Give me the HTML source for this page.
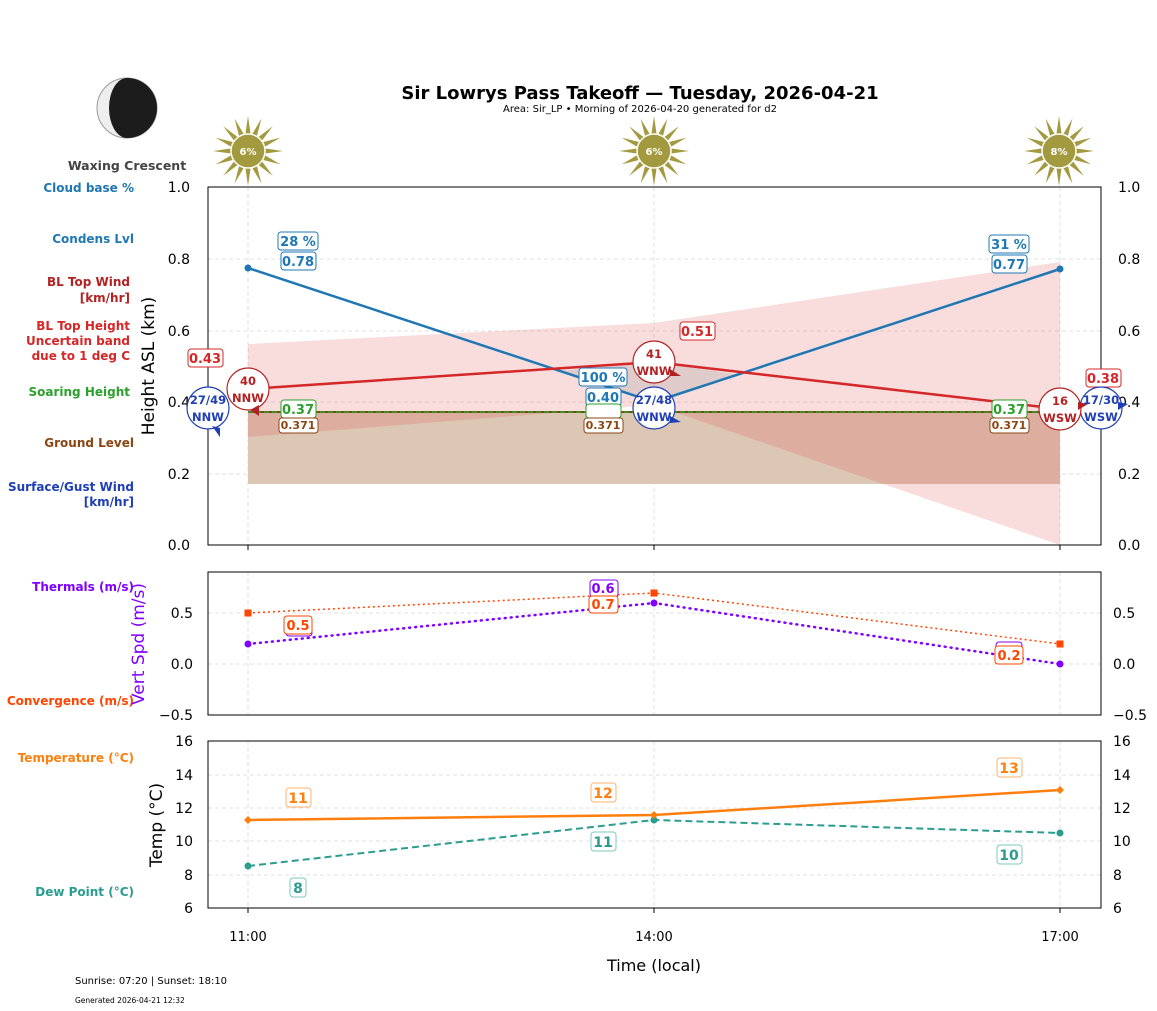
<!DOCTYPE html>
<html><head><meta charset="utf-8"><style>
body{margin:0;background:#fff}
svg{display:block;font-family:"DejaVu Sans","Liberation Sans",sans-serif}
.b{font-weight:bold}
</style></head><body>
<svg width="1157" height="1011" viewBox="0 0 1157 1011">
<defs>
<g id="sun"><g fill="#a39a3f">
<polygon points="0,-35 5,0 0,35 -5,0"/>
<polygon points="0,-35 5,0 0,35 -5,0" transform="rotate(22.5)"/>
<polygon points="0,-35 5,0 0,35 -5,0" transform="rotate(45)"/>
<polygon points="0,-35 5,0 0,35 -5,0" transform="rotate(67.5)"/>
<polygon points="0,-35 5,0 0,35 -5,0" transform="rotate(90)"/>
<polygon points="0,-35 5,0 0,35 -5,0" transform="rotate(112.5)"/>
<polygon points="0,-35 5,0 0,35 -5,0" transform="rotate(135)"/>
<polygon points="0,-35 5,0 0,35 -5,0" transform="rotate(157.5)"/></g>
<circle r="17" fill="#a39a3f" stroke="#fff" stroke-width="1.5"/></g>
</defs>
<!-- header -->
<text x="640" y="99" text-anchor="middle" font-size="18" class="b">Sir Lowrys Pass Takeoff — Tuesday, 2026-04-21</text>
<text x="640" y="112" text-anchor="middle" font-size="10">Area: Sir_LP • Morning of 2026-04-20 generated for d2</text>
<circle cx="127" cy="108" r="30" fill="#eee" stroke="#999"/>
<path d="M127,78 A30,30 0 0 1 127,138 A18,30 0 0 1 127,78Z" fill="#1c1c1c"/>
<text x="127" y="170" text-anchor="middle" font-size="12.5" fill="#444" class="b">Waxing Crescent</text>
<use href="#sun" x="248" y="151"/><use href="#sun" x="654" y="151"/><use href="#sun" x="1059" y="151"/>
<g font-size="10" fill="#fff" class="b" text-anchor="middle"><text x="248" y="155">6%</text><text x="654" y="155">6%</text><text x="1059" y="155">8%</text></g>
<!-- left labels -->
<g font-size="12" class="b" text-anchor="end">
<text x="134" y="192" fill="#1f77b4">Cloud base %</text>
<text x="134" y="243" fill="#1f77b4">Condens Lvl</text>
<text x="130" y="286" fill="#b22222">BL Top Wind</text><text x="130" y="302" fill="#b22222">[km/hr]</text>
<text x="130" y="330" fill="#d62728">BL Top Height</text><text x="130" y="345" fill="#d62728">Uncertain band</text><text x="130" y="360" fill="#d62728">due to 1 deg C</text>
<text x="130" y="396" fill="#2ca02c">Soaring Height</text>
<text x="134" y="447" fill="#8b4513">Ground Level</text>
<text x="134" y="491" fill="#1f3fb4">Surface/Gust Wind</text><text x="134" y="506" fill="#1f3fb4">[km/hr]</text>
<text x="134" y="591" fill="#8000ff">Thermals (m/s)</text>
<text x="134" y="705" fill="#ff4500">Convergence (m/s)</text>
<text x="134" y="762" fill="#ff7f0e">Temperature (°C)</text>
<text x="134" y="896" fill="#2a9d8f">Dew Point (°C)</text>
</g>
<!-- MAIN PLOT -->
<g stroke="#d8d8d8" stroke-dasharray="4,3" stroke-width="0.8">
<line x1="208" x2="1101" y1="259" y2="259"/><line x1="208" x2="1101" y1="331" y2="331"/><line x1="208" x2="1101" y1="402" y2="402"/><line x1="208" x2="1101" y1="474" y2="474"/>
<line x1="248" x2="248" y1="187" y2="545"/><line x1="654" x2="654" y1="187" y2="545"/><line x1="1060" x2="1060" y1="187" y2="545"/>
</g>
<rect x="248" y="412" width="812" height="72" fill="#dcc6b4"/>
<polygon points="248,344 654,323 1060,262 1060,545 654,405 248,437" fill="#e05050" fill-opacity="0.2"/>
<polygon points="560,371 654,362 740,375 654,402" fill="#999" fill-opacity="0.25"/>
<line x1="248" x2="1060" y1="412" y2="412" stroke="#8b4513" stroke-width="2"/>
<line x1="248" x2="1060" y1="412" y2="412" stroke="#2ca02c" stroke-width="1.5" stroke-dasharray="5,3"/>
<polyline points="248,268 654,402 1060,269" fill="none" stroke="#1f77b4" stroke-width="2.5"/>
<g fill="#1f77b4"><circle cx="248" cy="268" r="3.5"/><circle cx="1060" cy="269" r="3.5"/></g>
<polyline points="248,389 654,362 1060,409" fill="none" stroke="#d62728" stroke-width="2.5"/>
<rect x="208" y="187" width="893" height="358" fill="none" stroke="#000" stroke-width="1"/>
<g font-size="14" text-anchor="end"><text x="190" y="192">1.0</text><text x="190" y="264">0.8</text><text x="190" y="336">0.6</text><text x="190" y="407">0.4</text><text x="190" y="479">0.2</text><text x="190" y="550">0.0</text></g>
<g font-size="14"><text x="1118" y="192">1.0</text><text x="1118" y="264">0.8</text><text x="1118" y="336">0.6</text><text x="1118" y="407">0.4</text><text x="1118" y="479">0.2</text><text x="1118" y="550">0.0</text></g>
<text transform="translate(154,366) rotate(-90)" text-anchor="middle" font-size="17">Height ASL (km)</text>
<g stroke="#000"><line x1="248" x2="248" y1="545" y2="550"/><line x1="654" x2="654" y1="545" y2="550"/><line x1="1060" x2="1060" y1="545" y2="550"/></g>
<!-- label boxes main -->
<g font-size="13" class="b" text-anchor="middle">
<g stroke="#1f77b4" fill="#fff"><rect x="278" y="232" width="40" height="18" rx="3"/><rect x="281" y="252" width="35" height="18" rx="3"/>
<rect x="989" y="235" width="40" height="18" rx="3"/><rect x="992" y="255" width="35" height="18" rx="3"/>
<rect x="579" y="368" width="48" height="18" rx="3"/><rect x="586" y="388" width="35" height="18" rx="3"/></g>
<g fill="#1f77b4"><text x="298" y="246">28 %</text><text x="298" y="266">0.78</text><text x="1009" y="249">31 %</text><text x="1009" y="269">0.77</text><text x="603" y="382">100 %</text><text x="603" y="402">0.40</text></g>
<g stroke="#d62728" fill="#fff"><rect x="188" y="349" width="35" height="18" rx="3"/><rect x="680" y="322" width="35" height="18" rx="3"/><rect x="1086" y="369" width="35" height="18" rx="3"/></g>
<g fill="#d62728"><text x="205" y="363">0.43</text><text x="697" y="336">0.51</text><text x="1103" y="383">0.38</text></g>
<g stroke="#2ca02c" fill="#fff"><rect x="281" y="400" width="35" height="18" rx="3"/><rect x="992" y="400" width="35" height="18" rx="3"/><rect x="586" y="404" width="35" height="14" rx="3"/></g>
<g fill="#2ca02c"><text x="298" y="414">0.37</text><text x="1009" y="414">0.37</text></g>
</g>
<g font-size="11" class="b" text-anchor="middle">
<g stroke="#8b4513" fill="#fff"><rect x="279" y="418" width="39" height="15" rx="3"/><rect x="584" y="418" width="39" height="15" rx="3"/><rect x="990" y="418" width="39" height="15" rx="3"/></g>
<g fill="#8b4513"><text x="298" y="429">0.371</text><text x="603" y="429">0.371</text><text x="1009" y="429">0.371</text></g>
</g>
<!-- wind circles -->
<g fill="#fff" stroke-width="1.2">
<circle cx="208" cy="408" r="21" stroke="#1f3fb4"/><circle cx="654" cy="408" r="21" stroke="#1f3fb4"/><circle cx="1101" cy="408" r="21" stroke="#1f3fb4"/>
<circle cx="248" cy="389" r="21" stroke="#b22222"/><circle cx="654" cy="362" r="21" stroke="#b22222"/><circle cx="1060" cy="409" r="21" stroke="#b22222"/>
</g>
<g fill="#1f3fb4"><polygon points="212,426 220,428 220,437"/><polygon points="670,416 681,422 670,423"/><polygon points="1118,402 1128,404 1118,410"/></g>
<g fill="#b22222"><polygon points="250,410 259,405 259,416"/><polygon points="670,369 681,376 670,376"/><polygon points="1078,402 1088,404 1078,410"/></g>
<g font-size="11.5" class="b" text-anchor="middle">
<g fill="#1f3fb4"><text x="208" y="404">27/49</text><text x="208" y="421">NNW</text><text x="654" y="404">27/48</text><text x="654" y="421">WNW</text><text x="1101" y="404">17/30</text><text x="1101" y="421">WSW</text></g>
<g fill="#b22222"><text x="248" y="385">40</text><text x="248" y="402">NNW</text><text x="654" y="358">41</text><text x="654" y="375">WNW</text><text x="1060" y="405">16</text><text x="1060" y="422">WSW</text></g>
</g>
<!-- MID PLOT -->
<g stroke="#d8d8d8" stroke-dasharray="4,3" stroke-width="0.8">
<line x1="208" x2="1101" y1="613" y2="613"/><line x1="208" x2="1101" y1="664" y2="664"/>
<line x1="248" x2="248" y1="572" y2="715"/><line x1="654" x2="654" y1="572" y2="715"/><line x1="1060" x2="1060" y1="572" y2="715"/>
</g>
<polyline points="248,613 654,593 1060,644" fill="none" stroke="#ff4500" stroke-width="1.5" stroke-dasharray="2,3"/>
<polyline points="248,644 654,603 1060,664" fill="none" stroke="#8000ff" stroke-width="2.5" stroke-dasharray="1,5" stroke-linecap="round"/>
<g fill="#ff4500"><rect x="244.5" y="609.5" width="7" height="7"/><rect x="650.5" y="589.5" width="7" height="7"/><rect x="1056.5" y="640.5" width="7" height="7"/></g>
<g fill="#8000ff"><circle cx="248" cy="644" r="3.5"/><circle cx="654" cy="603" r="3.5"/><circle cx="1060" cy="664" r="3.5"/></g>
<rect x="208" y="572" width="893" height="143" fill="none" stroke="#000"/>
<g font-size="14" text-anchor="end"><text x="193" y="618">0.5</text><text x="193" y="669">0.0</text><text x="193" y="720">−0.5</text></g>
<g font-size="14"><text x="1113" y="618">0.5</text><text x="1113" y="669">0.0</text><text x="1113" y="720">−0.5</text></g>
<text transform="translate(144,644) rotate(-90)" text-anchor="middle" font-size="17" fill="#8000ff">Vert Spd (m/s)</text>
<g font-size="13" class="b" text-anchor="middle">
<rect x="286" y="618" width="26" height="18" rx="3" fill="#fff" stroke="#8000ff"/><rect x="284" y="616" width="28" height="18" rx="3" fill="#fff" stroke="#ff4500"/><text x="298" y="630" fill="#ff4500">0.5</text>
<rect x="590" y="580" width="28" height="17" rx="3" fill="#fff" stroke="#8000ff"/><text x="603" y="593" fill="#8000ff">0.6</text>
<rect x="589" y="596" width="29" height="17" rx="3" fill="#fff" stroke="#ff4500"/><text x="603" y="609" fill="#ff4500">0.7</text>
<rect x="996" y="642" width="26" height="16" rx="3" fill="#fff" stroke="#8000ff"/><rect x="995" y="646" width="28" height="18" rx="3" fill="#fff" stroke="#ff4500"/><text x="1009" y="660" fill="#ff4500">0.2</text>
</g>
<!-- BOTTOM PLOT -->
<g stroke="#d8d8d8" stroke-dasharray="4,3" stroke-width="0.8">
<line x1="208" x2="1101" y1="775" y2="775"/><line x1="208" x2="1101" y1="808" y2="808"/><line x1="208" x2="1101" y1="841" y2="841"/><line x1="208" x2="1101" y1="875" y2="875"/>
<line x1="248" x2="248" y1="741" y2="908"/><line x1="654" x2="654" y1="741" y2="908"/><line x1="1060" x2="1060" y1="741" y2="908"/>
</g>
<polyline points="248,866 654,820 1060,833" fill="none" stroke="#2a9d8f" stroke-width="2" stroke-dasharray="7,4"/>
<g fill="#2a9d8f"><circle cx="248" cy="866" r="3.5"/><circle cx="654" cy="820" r="3.5"/><circle cx="1060" cy="833" r="3.5"/></g>
<polyline points="248,820 654,815 1060,790" fill="none" stroke="#ff7f0e" stroke-width="2.5"/>
<g fill="#ff7f0e"><polygon points="248,816 252,820 248,824 244,820"/><polygon points="654,811 658,815 654,819 650,815"/><polygon points="1060,786 1064,790 1060,794 1056,790"/></g>
<rect x="208" y="741" width="893" height="167" fill="none" stroke="#000"/>
<g font-size="14" text-anchor="end"><text x="193" y="746">16</text><text x="193" y="780">14</text><text x="193" y="813">12</text><text x="193" y="846">10</text><text x="193" y="880">8</text><text x="193" y="913">6</text></g>
<g font-size="14"><text x="1113" y="746">16</text><text x="1113" y="780">14</text><text x="1113" y="813">12</text><text x="1113" y="846">10</text><text x="1113" y="880">8</text><text x="1113" y="913">6</text></g>
<text transform="translate(162,825) rotate(-90)" text-anchor="middle" font-size="17">Temp (°C)</text>
<g font-size="14" class="b" text-anchor="middle">
<g fill="#fff" stroke="#ffb070"><rect x="286" y="788" width="25" height="19" rx="3"/><rect x="591" y="783" width="25" height="19" rx="3"/><rect x="997" y="758" width="25" height="19" rx="3"/></g>
<g fill="#ff7f0e"><text x="298" y="803">11</text><text x="603" y="798">12</text><text x="1009" y="773">13</text></g>
<g fill="#fff" stroke="#7cc8bd"><rect x="290" y="878" width="16" height="19" rx="3"/><rect x="591" y="832" width="25" height="19" rx="3"/><rect x="997" y="845" width="25" height="19" rx="3"/></g>
<g fill="#2a9d8f"><text x="298" y="893">8</text><text x="603" y="847">11</text><text x="1009" y="860">10</text></g>
</g>
<g stroke="#000"><line x1="248" x2="248" y1="908" y2="913"/><line x1="654" x2="654" y1="908" y2="913"/><line x1="1060" x2="1060" y1="908" y2="913"/></g>
<g font-size="13" text-anchor="middle"><text x="248" y="941">11:00</text><text x="654" y="941">14:00</text><text x="1060" y="941">17:00</text></g>
<text x="654" y="971" text-anchor="middle" font-size="16">Time (local)</text>
<text x="75" y="984" font-size="10">Sunrise: 07:20 | Sunset: 18:10</text>
<text x="75" y="1003" font-size="7.5">Generated 2026-04-21 12:32</text>
</svg>
</body></html>
